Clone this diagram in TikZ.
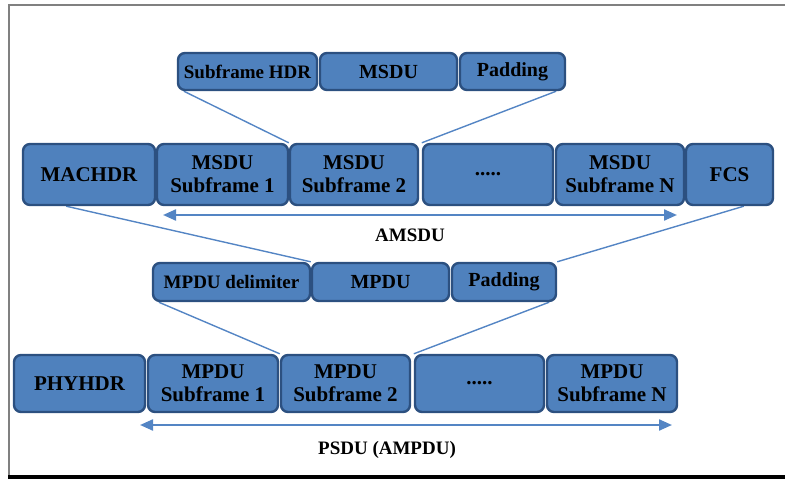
\documentclass[tikz,border=0pt]{standalone}
\usepackage{fontspec}
\setmainfont{Liberation Serif}
\usetikzlibrary{arrows.meta,calc,backgrounds}
\definecolor{cFill}{RGB}{79,129,189}
\definecolor{cEdge}{RGB}{44,80,128}
\definecolor{cLink}{RGB}{84,133,196}
\tikzset{
  fld/.style={draw=cEdge,fill=cFill,line width=2.4pt,rounded corners=7pt,
              inner sep=0pt,align=center,text=black,
              font=\fontsize{21}{23}\selectfont\bfseries},      % frame field
  fldS/.style={fld,font=\fontsize{20}{22}\selectfont\bfseries}, % sub-field
  link/.style={-,cLink,line width=1.4pt},                        % zoom line
  lenarr/.style={{Triangle[length=13pt,width=11pt]}-{Triangle[length=13pt,width=11pt]},
                 cLink,line width=2.2pt},
  lbl/.style={font=\fontsize{19}{21}\selectfont\bfseries},
}

\begin{document}
\begin{tikzpicture}[x=1pt,y=-1pt]
  \useasboundingbox (0,0) rectangle (785,479);
  % outer frame
  \draw[gray,line width=2pt] (8.5,475) -- (8.5,5) -- (785,5);
  \fill[black] (8,475) rectangle (785,479);

  % A-MSDU subframe
  \node[fldS,minimum width=139,minimum height=37,font=\fontsize{19}{21}\selectfont\bfseries]
        (shdr) at (247.5,71.5) {Subframe HDR};
  \node[fldS,minimum width=137,minimum height=37] (msdu) at (388.5,71.5) {MSDU};
  \node[fldS,minimum width=105,minimum height=37] (padA) at (512.5,71.5) {Padding};

  % MAC frame
  \node[fld,minimum width=132,minimum height=61] (machdr) at (89,174.5)  {MACHDR};
  \node[fld,minimum width=131,minimum height=61] (msf1)   at (222.5,174.5){MSDU\\Subframe 1};
  \node[fld,minimum width=128,minimum height=61] (msf2)   at (354,174.5) {MSDU\\Subframe 2};
  \node[fld,minimum width=130,minimum height=61] (mdots)  at (488,174.5) {.....};
  \node[fld,minimum width=128,minimum height=61] (msfn)   at (620,174.5) {MSDU\\Subframe N};
  \node[fld,minimum width=87,minimum height=61]  (fcs)    at (729.5,174.5){FCS};

  \coordinate (amsL) at (163,215);
  \coordinate (amsR) at (677,215);
  \draw[lenarr] (amsL) -- (amsR);
  \node[lbl] (amsdu) at (410,235) {AMSDU};

  % A-MPDU subframe
  \node[fldS,minimum width=157,minimum height=38,font=\fontsize{19}{21}\selectfont\bfseries]
        (mdel) at (231.5,282) {MPDU delimiter};
  \node[fldS,minimum width=137,minimum height=38] (mpdu) at (380.5,282) {MPDU};
  \node[fldS,minimum width=104,minimum height=38] (padB) at (504,282)   {Padding};

  % PHY frame
  \node[fld,minimum width=131,minimum height=57] (phyhdr) at (79.5,383.5) {PHYHDR};
  \node[fld,minimum width=130,minimum height=57] (psf1)   at (213,383.5)  {MPDU\\Subframe 1};
  \node[fld,minimum width=129,minimum height=57] (psf2)   at (345.5,383.5){MPDU\\Subframe 2};
  \node[fld,minimum width=129,minimum height=57] (pdots)  at (479.5,383.5){.....};
  \node[fld,minimum width=130,minimum height=57] (psfn)   at (612,383.5)  {MPDU\\Subframe N};

  \coordinate (psdL) at (140,425);
  \coordinate (psdR) at (672,425);
  \draw[lenarr] (psdL) -- (psdR);
  \node[lbl] (psdu) at (387,450) {PSDU (AMPDU)};

  % zoom lines
  \begin{scope}[on background layer]
    \draw[link] ($(shdr.south west)+(7,0)$) -- (msf2.north west);
    \draw[link] ($(padA.south east)+(-10,0)$) -- (mdots.north west);
    \draw[link] ($(machdr.south west)!0.33!(machdr.south east)$) -- (mpdu.north west);
    \draw[link] ($(fcs.south west)!0.66!(fcs.south east)$) -- (padB.north east);
    \draw[link] ($(mdel.south west)+(7,0)$) -- (psf2.north west);
    \draw[link] ($(padB.south east)+(-8,0)$) -- (pdots.north west);
  \end{scope}
\end{tikzpicture}
\end{document}
